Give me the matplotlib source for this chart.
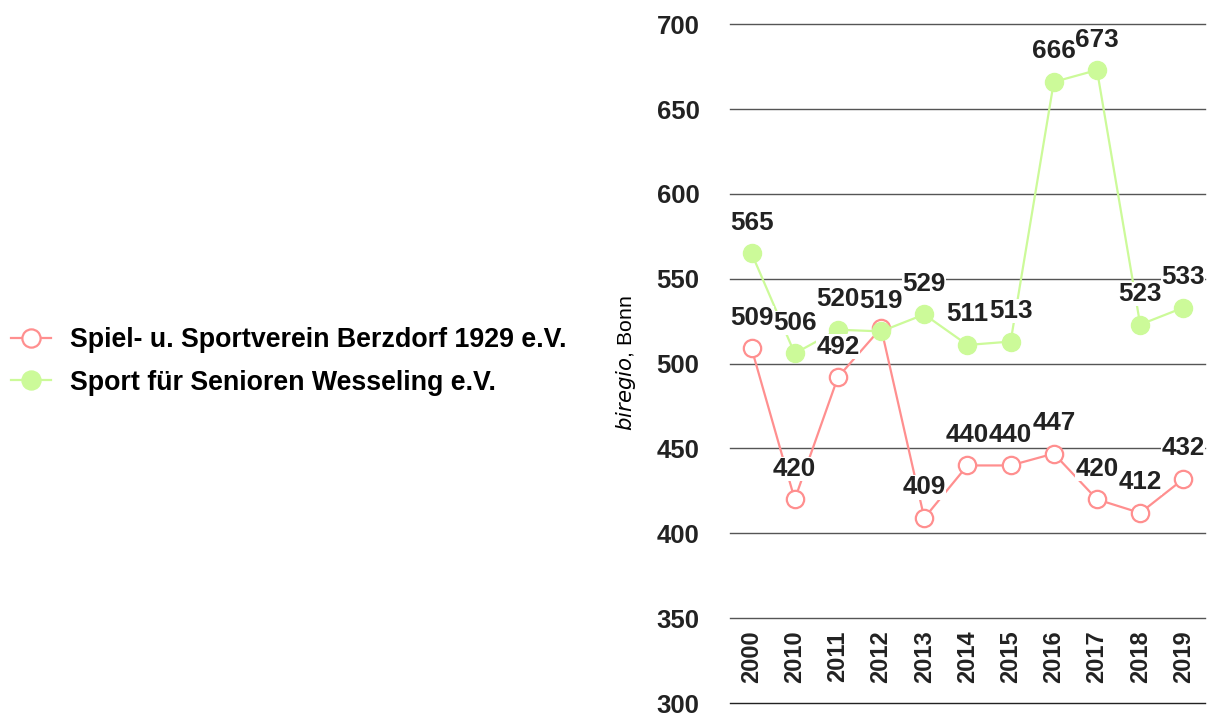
import matplotlib.pyplot as plt

plt.rcParams['font.family'] = ['Liberation Sans', 'DejaVu Sans']

years = ['2000', '2010', '2011', '2012', '2013', '2014', '2015', '2016', '2017', '2018', '2019']
berzdorf = [509, 420, 492, 521, 409, 440, 440, 447, 420, 412, 432]
wesseling = [565, 506, 520, 519, 529, 511, 513, 666, 673, 523, 533]
# label of the hidden point (covered in the original)
berzdorf_show = [True, True, True, False, True, True, True, True, True, True, True]

red = '#ff8f8f'
green = '#ccfa99'

fig = plt.figure(figsize=(12.17, 7.13), dpi=100)
ax = fig.add_axes([0.5998, 0.014, 0.3903, 0.952])

x = list(range(len(years)))

ax.plot(x, berzdorf, color=red, lw=1.6, marker='o', ms=12.5, mfc='white', mec=red, mew=1.6,
        label='Spiel- u. Sportverein Berzdorf 1929 e.V.', zorder=3)
ax.plot(x, wesseling, color=green, lw=1.6, marker='o', ms=13, mfc=green, mec=green,
        label='Sport für Senioren Wesseling e.V.', zorder=4)

for xi, v, s in zip(x, berzdorf, berzdorf_show):
    if s:
        ax.annotate(str(v), (xi, v), xytext=(0, 22), textcoords='offset points', ha='center', va='center',
                    fontsize=18.7, fontweight='bold', color='#222222', zorder=5,
                    bbox=dict(facecolor='white', edgecolor='none', pad=0.2))
for xi, v in zip(x, wesseling):
    ax.annotate(str(v), (xi, v), xytext=(0, 22), textcoords='offset points', ha='center', va='center',
                fontsize=18.7, fontweight='bold', color='#222222', zorder=6,
                bbox=dict(facecolor='white', edgecolor='none', pad=0.2))

# year labels sit inside the plot, between 300 and 350
for xi, yr in zip(x, years):
    ax.text(xi, 327.4, yr, rotation=90, ha='center', va='center', fontsize=17,
            fontweight='bold', color='#222222')

ax.set_xlim(-0.5, len(years) - 0.5)
ax.set_ylim(300, 700)
ax.set_yticks(range(300, 701, 50))
ax.set_xticks([])
ax.grid(axis='y', color='#555555', lw=1.0, clip_on=False)
ax.set_axisbelow(True)
for sp in ax.spines.values():
    sp.set_visible(False)
ax.spines['bottom'].set_visible(True)
ax.spines['bottom'].set_color('#222222')
ax.tick_params(axis='y', length=0, pad=22, labelsize=18.5)
for lab in ax.get_yticklabels():
    lab.set_fontweight('bold')
    lab.set_color('#222222')

ax.set_ylabel(r'$\it{biregio}$, Bonn', fontsize=15.3, labelpad=13)

fig.legend(loc='center left', bbox_to_anchor=(0.0, 0.493), frameon=False,
           handlelength=1.5, handletextpad=0.7, labelspacing=0.6, borderaxespad=0,
           prop={'weight': 'bold', 'size': 19.3}, markerscale=1.05)

fig.savefig('out.png', dpi=100)
